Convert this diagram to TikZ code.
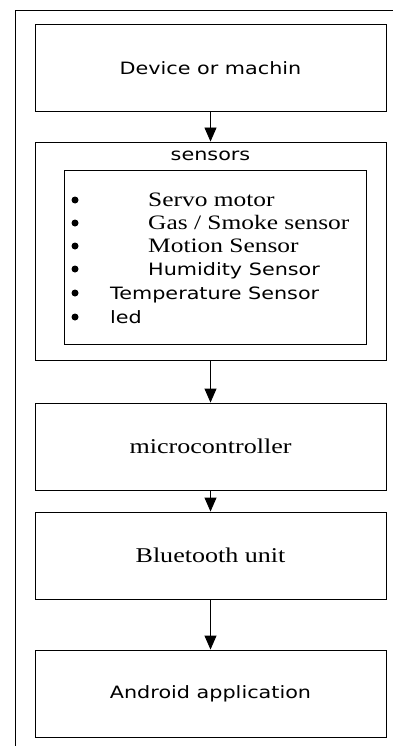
\documentclass[tikz,border=0pt]{standalone}
\usepackage{fontspec}
\usepackage{tikz}
\usetikzlibrary{arrows.meta, positioning}
\newfontfamily\boxsans{DejaVu Sans}[FakeStretch=1.22]
\newfontfamily\boxserif{Liberation Serif}[FakeStretch=1.24]

\tikzset{
  blok/.style={draw, line width=0.9pt, minimum width=351pt, minimum height=87pt, inner sep=0pt},
  fleche/.style={-{Triangle[length=14pt, width=12pt]}, line width=0.9pt},
  puce/.style={circle, fill, inner sep=0pt, minimum size=7pt},
  sanstxt/.style={font=\boxsans\fontsize{17}{19}\selectfont},
  seriftxt/.style={font=\boxserif\fontsize{20.5}{22}\selectfont}
}

\begin{document}
\begin{tikzpicture}[x=1pt, y=-1pt]
    \useasboundingbox (0,0) rectangle (393,746);
    % cadre exterieur
    \draw[line width=0.9pt] (15,746) -- (15,10) -- (393,10);

    \node[blok, sanstxt] (dev) at (210.5,68) {Device or machin};
    \node[blok, minimum height=218pt] (sens) at (210.5,251) {};
    \node[sanstxt] (senstitre) at (210.5,156) {sensors};
    \node[draw, line width=0.9pt, minimum width=302pt, minimum height=174pt] (liste) at (215,257) {};
    \foreach \i/\yy/\xx/\sty/\lab in {1/206/148/seriftxt/{Servo motor},
        2/229/148/seriftxt/{Gas / Smoke sensor},
        3/252/148/seriftxt/{Motion Sensor},
        4/275/148/sanstxt/{Humidity Sensor},
        5/299/110/sanstxt/{Temperature Sensor},
        6/323/110/sanstxt/{led}} {
      \node[puce] (p\i) at (75,\yy-6) {};
      \node[\sty, anchor=base west, inner sep=0pt] (t\i) at (\xx,\yy) {\lab};
    }

    \node[blok, font=\boxserif\fontsize{21}{23}\selectfont] (mcu) at (210.5,446.5) {microcontroller};
    \node[blok, font=\boxserif\fontsize{21}{23}\selectfont] (bt) at (210.5,555.5) {Bluetooth unit};
    \node[blok, sanstxt] (app) at (210.5,693.5) {Android application};

    \draw[fleche] (dev) -- (sens);
    \draw[fleche] (sens) -- (mcu);
    \draw[fleche] (mcu) -- (bt);
    \draw[fleche] (bt) -- (app);
  \end{tikzpicture}
\end{document}
